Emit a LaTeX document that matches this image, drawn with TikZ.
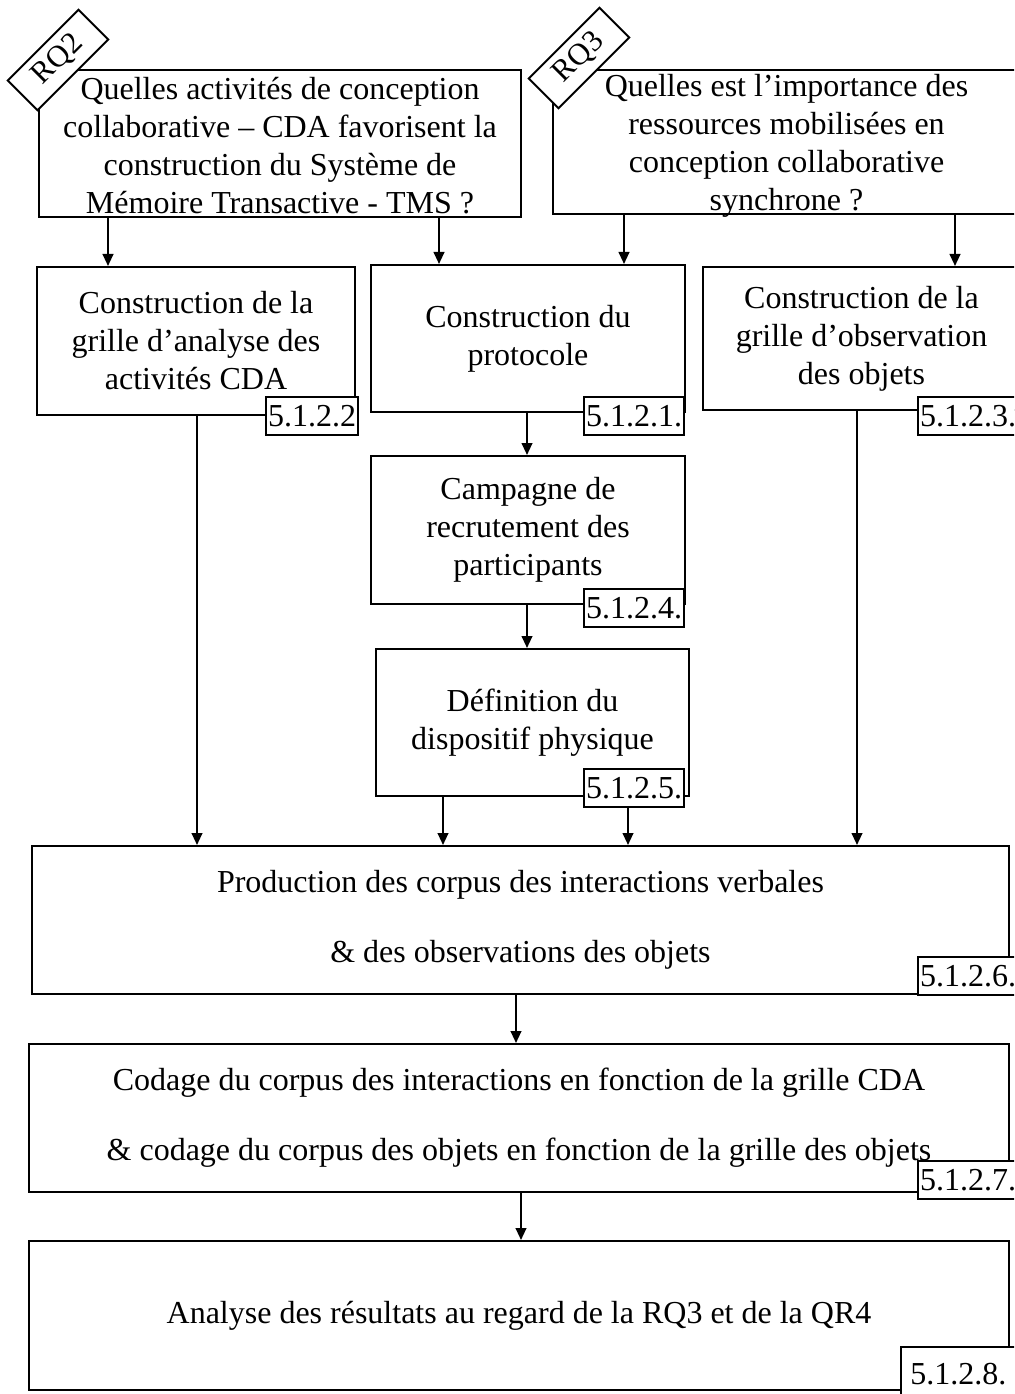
\documentclass[tikz,border=0pt]{standalone}
\usepackage{fontspec}
\setmainfont{Liberation Serif}
\usetikzlibrary{arrows.meta}
\begin{document}
\begin{tikzpicture}[x=0.75pt,y=-0.75pt,
  every node/.style={font=\fontsize{24}{28.5}\selectfont},
  box/.style 2 args={draw,line width=1.5pt,align=center,inner sep=0pt,
    minimum width=#1*0.75pt,minimum height=#2*0.75pt},
  lab/.style={draw,fill=white,line width=1.5pt,anchor=north west,inner xsep=1.5pt,
    inner ysep=0pt,minimum height=28.5pt,text depth=0pt},
  tag/.style={draw,fill=white,line width=1.5pt,rotate=45,inner sep=0pt,
    minimum width=75pt,minimum height=31.5pt,font=\fontsize{23}{24}\selectfont},
  arr/.style={line width=1.5pt,-{Triangle[length=9pt,width=8pt]}}]
\useasboundingbox (0,0) rectangle (1014,1394);
\clip (0,0) rectangle (1014,1394);
% question boxes
\node[box={482}{147}] (q2) at (280,143.5) {};
\node[align=center] (q2t) at (280,145.5) {Quelles activités de conception\\collaborative – CDA favorisent la\\construction du Système de\\Mémoire Transactive - TMS ?};
\node[box={467}{144}] (q3) at (786.5,142) {};
\node[align=center] (q3t) at (786.5,146) {Quelles est l’importance des\\ressources mobilisées en\\conception collaborative\\synchrone ?};
% second row
\node[box={318}{148}] (a) at (196,341) {Construction de la\\grille d’analyse des\\activités CDA};
\node[box={314}{147}] (b) at (528,338.5) {Construction du\\protocole};
\node[box={317}{143}] (c) at (861.5,338.5) {Construction de la\\grille d’observation\\des objets};
\node[box={314}{148}] (d) at (528,530) {Campagne de\\recrutement des\\participants};
\node[box={313}{147}] (e) at (532.5,722.5) {Définition du\\dispositif physique};
% wide boxes
\node[box={977}{148}] (f) at (520.5,920) {Production des corpus des interactions verbales\\[24pt]\& des observations des objets};
\node[box={980}{148}] (g) at (519,1118) {Codage du corpus des interactions en fonction de la grille CDA\\[24pt]\& codage du corpus des objets en fonction de la grille des objets};
\node[box={980}{149}] (h) at (519,1315.5) {Analyse des résultats au regard de la RQ3 et de la QR4};
% section labels
\node[lab] (l2) at (265,396) {5.1.2.2};
\node[lab] (l1) at (583,396) {5.1.2.1.};
\node[lab] (l3) at (917,396) {5.1.2.3.};
\node[lab] (l4) at (583,588) {5.1.2.4.};
\node[lab] (l5) at (583,768) {5.1.2.5.};
\node[lab] (l6) at (917,956) {5.1.2.6.};
\node[lab] (l7) at (917,1160) {5.1.2.7.};
\node[lab,inner xsep=7pt,minimum height=40pt] (l8) at (900,1346) {5.1.2.8.};
% tags
\node[tag] (t2) at (58,60) {RQ2};
\node[tag] (t3) at (579,58) {RQ3};
% connectors
\draw[arr] (108,0 |- q2.south) -- (108,0 |- a.north);
\draw[arr] (439,0 |- q2.south) -- (439,0 |- b.north);
\draw[arr] (624,0 |- q3.south) -- (624,0 |- b.north);
\draw[arr] (955,0 |- q3.south) -- (955,0 |- c.north);
\draw[arr] (527,0 |- b.south) -- (527,0 |- d.north);
\draw[arr] (527,0 |- d.south) -- (527,0 |- e.north);
\draw[arr] (197,0 |- a.south) -- (197,0 |- f.north);
\draw[arr] (443,0 |- e.south) -- (443,0 |- f.north);
\draw[arr] (628,0 |- l5.south) -- (628,0 |- f.north);
\draw[arr] (857,0 |- c.south) -- (857,0 |- f.north);
\draw[arr] (516,0 |- f.south) -- (516,0 |- g.north);
\draw[arr] (521,0 |- g.south) -- (521,0 |- h.north);
\end{tikzpicture}
\end{document}
